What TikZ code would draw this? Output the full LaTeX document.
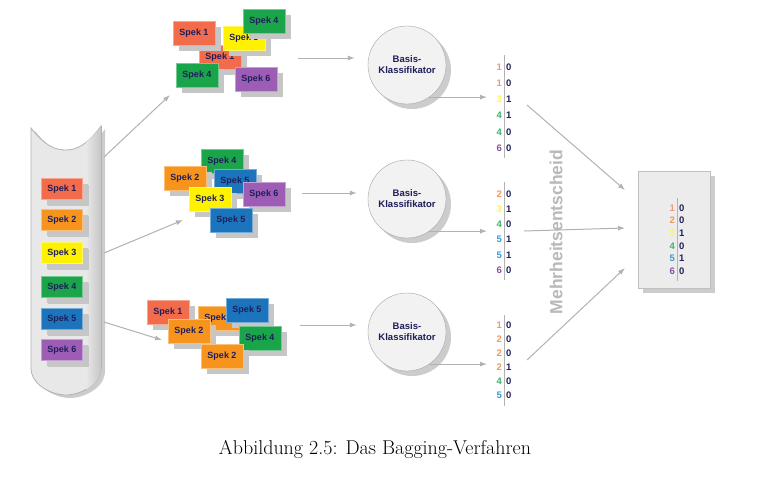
\documentclass[tikz,border=0pt]{standalone}
\usepackage{fontspec}
\setsansfont{Liberation Sans}
\usepackage{xcolor}
\usetikzlibrary{arrows.meta,shadows}
\definecolor{spek1}{HTML}{F26B4A}
\definecolor{spek2}{HTML}{F7941E}
\definecolor{spek3}{HTML}{FFF200}
\definecolor{spek4}{HTML}{1AA54B}
\definecolor{spek5}{HTML}{1C75BC}
\definecolor{spek6}{HTML}{9E5DB5}
\definecolor{dig1}{HTML}{F0987E}
\definecolor{dig2}{HTML}{EE9A5A}
\definecolor{dig3}{HTML}{FFF35C}
\definecolor{dig4}{HTML}{3DB46D}
\definecolor{dig5}{HTML}{3D98D3}
\definecolor{dig6}{HTML}{8B4F9E}
\definecolor{ink}{HTML}{1E1E5A}

\begin{document}
\begin{tikzpicture}[x=1pt,y=-1pt,
    spek/.style={draw=#1!60!white, fill=#1, text=ink, inner sep=0pt,
        font=\sffamily\bfseries\fontsize{9}{10}\selectfont,
        minimum width=42pt, minimum height=24pt,
        drop shadow={shadow xshift=6pt,shadow yshift=-6pt,fill=gray!45,opacity=1}},
    tubespek/.style={spek=#1, minimum width=41pt, minimum height=21pt,
        drop shadow={shadow xshift=5pt,shadow yshift=-5pt,fill=gray!45,opacity=1}},
    klass/.style={circle, minimum size=78pt, draw=gray!70, fill=gray!10, text=ink,
        align=center, inner sep=0pt, font=\sffamily\bfseries\fontsize{9.5}{11}\selectfont,
        drop shadow={shadow xshift=5pt,shadow yshift=-5pt,fill=gray!40,opacity=1}},
    arr/.style={draw=gray!60, line width=1pt, -{Latex[length=7pt,width=5pt]}},
    colline/.style={draw=gray!60, line width=1pt},
    idx/.style={anchor=east, inner sep=0pt, font=\sffamily\bfseries\fontsize{9.5}{10}\selectfont},
    vote/.style={anchor=west, inner sep=0pt, text=ink, font=\sffamily\bfseries\fontsize{9.5}{10}\selectfont}]
            \fill[white] (0,0) rectangle (783,479);
            \useasboundingbox (0,0) rectangle (783,479);
            \begin{scope}[xshift=4pt,yshift=-3pt]
                \fill[gray!40] (31,128) .. controls (45,146) and (55,150) .. (66,150)
                    .. controls (77,150) and (88,144) .. (101,126) -- (101,368)
                    .. controls (101,385) and (80,395) .. (66,395)
                    .. controls (52,395) and (31,385) .. (31,368) -- cycle;
            \end{scope}
            \filldraw[fill=gray!18, draw=gray!60, thick] (31,128) .. controls (45,146) and (55,150) .. (66,150)
                .. controls (77,150) and (88,144) .. (101,126) -- (101,368)
                .. controls (101,385) and (80,395) .. (66,395)
                .. controls (52,395) and (31,385) .. (31,368) -- cycle;
            \begin{scope}
                \clip (31,128) .. controls (45,146) and (55,150) .. (66,150)
                    .. controls (77,150) and (88,144) .. (101,126) -- (101,368)
                    .. controls (101,385) and (80,395) .. (66,395)
                    .. controls (52,395) and (31,385) .. (31,368) -- cycle;
                \shade[left color=gray!18, right color=gray!45] (86,120) rectangle (101,400);
            \end{scope}
            \draw[gray!60, thick] (101,126) -- (101,368);
            \foreach \n/\y in {1/189,2/220,3/253,4/287,5/319,6/350}
                \node[tubespek=spek\n] (tube\n) at (62,\y) {Spek \n};
            \foreach \x/\y/\n [count=\i] in {220/57/1,194/33/1,244/38/3,264/21/4,197/75/4,256/79/6}
                \node[spek=spek\n] (top\i) at (\x,\y) {Spek \n};
            \foreach \x/\y/\n [count=\i] in {222/161/4,185/178/2,235/181/5,210/199/3,264/194/6,231/220/5}
                \node[spek=spek\n] (mid\i) at (\x,\y) {Spek \n};
            \foreach \x/\y/\n [count=\i] in {219/318/2,168/312/1,247/310/5,189/331/2,260/338/4,222/356/2}
                \node[spek=spek\n] (bot\i) at (\x,\y) {Spek \n};
            \coordinate (t1) at (104,157);
            \coordinate (t2) at (104,253);
            \coordinate (t3) at (104,322);
            \coordinate (g1) at (170,95);
            \coordinate (g2) at (183,220);
            \coordinate (g3) at (162,340);
            \draw[arr] (t1) -- (g1);
            \draw[arr] (t2) -- (g2);
            \draw[arr] (t3) -- (g3);
            \node[klass] (k1) at (407,65) {Basis-\\Klassifikator};
            \node[klass] (k2) at (407,199) {Basis-\\Klassifikator};
            \node[klass] (k3) at (407,332) {Basis-\\Klassifikator};
            \coordinate (o1) at (298,58);
            \coordinate (o2) at (302,193);
            \coordinate (o3) at (300,325);
            \draw[arr, shorten >=13pt] (o1) -- (o1 -| k1.west);
            \draw[arr, shorten >=11pt] (o2) -- (o2 -| k2.west);
            \draw[arr, shorten >=11pt] (o3) -- (o3 -| k3.west);
            \coordinate (c) at (487,0);
            \draw[arr] (k1.-55) -- (k1.-55 -| c);
            \draw[arr] (k2.-55) -- (k2.-55 -| c);
            \draw[arr] (k3.-55) -- (k3.-55 -| c);
            \draw[colline] (504,55) -- (504,158);
            \foreach \a/\b [count=\i] in {1/0,1/0,3/1,4/1,4/0,6/0} {
                \node[idx, text=dig\a] (va\i) at (502,{67+16.2*(\i-1)}) {\a};
                \node[vote] (vb\i) at (506,{67+16.2*(\i-1)}) {\b};
            }
            \draw[colline] (504,182) -- (504,280);
            \foreach \a/\b [count=\i] in {2/0,3/1,4/0,5/1,5/1,6/0} {
                \node[idx, text=dig\a] (wa\i) at (502,{194+15.2*(\i-1)}) {\a};
                \node[vote] (wb\i) at (506,{194+15.2*(\i-1)}) {\b};
            }
            \draw[colline] (504,315) -- (504,406);
            \foreach \a/\b [count=\i] in {1/0,2/0,2/0,2/1,4/0,5/0} {
                \node[idx, text=dig\a] (xa\i) at (502,{325+14*(\i-1)}) {\a};
                \node[vote] (xb\i) at (506,{325+14*(\i-1)}) {\b};
            }
            \node[rotate=90, text=gray!55, font=\sffamily\bfseries\fontsize{17.5}{20}\selectfont] (mehr) at (556,232) {Mehrheitsentscheid};
            \node[draw=gray!50, fill=gray!15, minimum width=72pt, minimum height=117pt,
                drop shadow={shadow xshift=5pt,shadow yshift=-5pt,fill=gray!40,opacity=1}] (res) at (674,229.5) {};
            \coordinate (m1) at (527,105);
            \coordinate (m2) at (524,231);
            \coordinate (m3) at (527,360);
            \coordinate (r1) at (625,190);
            \coordinate (r2) at (625,228);
            \coordinate (r3) at (625,268);
            \draw[arr] (m1) -- (r1);
            \draw[arr] (m2) -- (r2);
            \draw[arr] (m3) -- (r3);
            \draw[colline] (677,198) -- (677,281);
            \foreach \a/\b [count=\i] in {1/0,2/0,3/1,4/0,5/1,6/0} {
                \node[idx, text=dig\a] (ya\i) at (675,{208+12.6*(\i-1)}) {\a};
                \node[vote] (yb\i) at (679,{208+12.6*(\i-1)}) {\b};
            }
            \node[font=\fontsize{20}{24}\selectfont] (cap) at (375,449) {Abbildung 2.5: Das Bagging-Verfahren};
        \end{tikzpicture}
\end{document}
